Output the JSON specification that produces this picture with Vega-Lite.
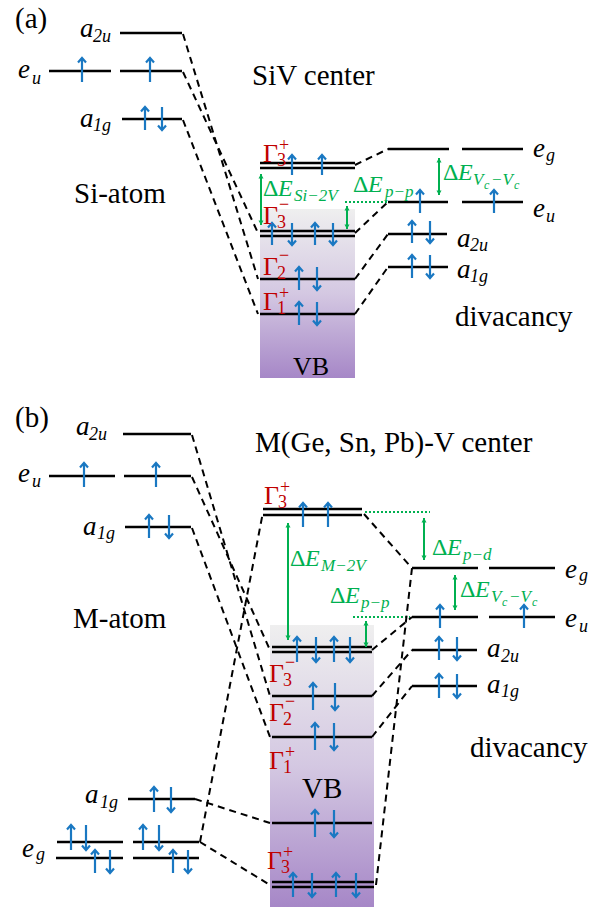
{
"$schema": "https://vega.github.io/schema/vega-lite/v6.json",
"width": 610, "height": 908, "padding": 0, "autosize": {"type": "none"},
"background": "white",
"config": {"view": {"stroke": null}, "text": {"font": "'Liberation Serif', 'Times New Roman', 'DejaVu Serif', serif"}},
"datasets": {
"box": [{"x1":260,"x2":355,"y1":209,"y2":378},{"x1":270,"x2":374,"y1":625,"y2":907}],
"levels": [
{"x1":120,"x2":182,"y":33},{"x1":49,"x2":111,"y":71},{"x1":120,"x2":182,"y":71},{"x1":122,"x2":182,"y":119},
{"x1":260,"x2":355,"y":163},{"x1":260,"x2":355,"y":168},{"x1":260,"x2":355,"y":231},{"x1":260,"x2":355,"y":236},
{"x1":260,"x2":355,"y":279},{"x1":260,"x2":355,"y":314},
{"x1":388,"x2":449,"y":149},{"x1":462,"x2":523,"y":149},{"x1":388,"x2":448,"y":202},{"x1":462,"x2":523,"y":202},
{"x1":388,"x2":447,"y":234},{"x1":388,"x2":448,"y":267},
{"x1":123,"x2":191,"y":434},{"x1":49,"x2":115,"y":476},{"x1":124,"x2":191,"y":476},{"x1":125,"x2":191,"y":527},
{"x1":263,"x2":362,"y":509},{"x1":263,"x2":362,"y":515},{"x1":272,"x2":372,"y":647},{"x1":272,"x2":372,"y":652},
{"x1":272,"x2":372,"y":696},{"x1":272,"x2":372,"y":737},{"x1":272,"x2":372,"y":823},{"x1":272,"x2":374,"y":882},{"x1":272,"x2":374,"y":887},
{"x1":128,"x2":195,"y":799},{"x1":57,"x2":123,"y":842},{"x1":133,"x2":199,"y":842},{"x1":56,"x2":123,"y":858},{"x1":133,"x2":199,"y":858},
{"x1":412,"x2":478,"y":568},{"x1":489,"x2":555,"y":568},{"x1":412,"x2":478,"y":617},{"x1":489,"x2":555,"y":617},
{"x1":412,"x2":477,"y":650},{"x1":412,"x2":477,"y":686}
],
"links": [
{"id":"a1","x":183,"y":34},{"id":"a1","x":258,"y":279},
{"id":"a2","x":183,"y":72},{"id":"a2","x":258,"y":233},
{"id":"a3","x":183,"y":120},{"id":"a3","x":258,"y":314},
{"id":"a4","x":355,"y":165},{"id":"a4","x":388,"y":149},
{"id":"a5","x":355,"y":233},{"id":"a5","x":388,"y":202},
{"id":"a6","x":355,"y":279},{"id":"a6","x":388,"y":234},
{"id":"a7","x":355,"y":314},{"id":"a7","x":388,"y":267},
{"id":"b1","x":192,"y":435},{"id":"b1","x":270,"y":696},
{"id":"b2","x":192,"y":477},{"id":"b2","x":270,"y":650},
{"id":"b3","x":192,"y":528},{"id":"b3","x":270,"y":737},
{"id":"b4","x":200,"y":842},{"id":"b4","x":263,"y":512},
{"id":"b5","x":195,"y":799},{"id":"b5","x":270,"y":823},
{"id":"b6","x":200,"y":842},{"id":"b6","x":270,"y":885},
{"id":"b7","x":364,"y":514},{"id":"b7","x":410,"y":566},
{"id":"b8","x":372,"y":650},{"id":"b8","x":412,"y":617},
{"id":"b9","x":372,"y":696},{"id":"b9","x":412,"y":650},
{"id":"b10","x":372,"y":737},{"id":"b10","x":412,"y":686},
{"id":"b11","x":412,"y":568},{"id":"b11","x":376,"y":885}
],
"dotted": [{"x1":345,"x2":388,"y":202},{"x1":365,"x2":430,"y":512},{"x1":353,"x2":410,"y":617}],
"gaps": [{"x":261,"y1":174,"y2":225},{"x":347,"y1":206,"y2":229},{"x":439,"y1":158,"y2":195},
{"x":288,"y1":523,"y2":640},{"x":366,"y1":621,"y2":647},{"x":424,"y1":518,"y2":560},{"x":455,"y1":575,"y2":610}],
"spins": [
{"x":82,"tail":82,"head":58,"dir":"up"},{"x":150,"tail":82,"head":58,"dir":"up"},
{"x":145,"tail":130,"head":107,"dir":"up"},{"x":162,"tail":107,"head":130,"dir":"down"},
{"x":292,"tail":175,"head":155,"dir":"up"},{"x":322,"tail":175,"head":155,"dir":"up"},
{"x":272,"tail":245,"head":223,"dir":"up"},{"x":292,"tail":223,"head":245,"dir":"down"},{"x":315,"tail":245,"head":223,"dir":"up"},{"x":333,"tail":223,"head":245,"dir":"down"},
{"x":299,"tail":290,"head":267,"dir":"up"},{"x":317,"tail":267,"head":290,"dir":"down"},
{"x":299,"tail":325,"head":302,"dir":"up"},{"x":317,"tail":302,"head":325,"dir":"down"},
{"x":420,"tail":213,"head":190,"dir":"up"},{"x":494,"tail":213,"head":190,"dir":"up"},
{"x":412,"tail":243,"head":221,"dir":"up"},{"x":430,"tail":221,"head":243,"dir":"down"},
{"x":412,"tail":278,"head":255,"dir":"up"},{"x":430,"tail":255,"head":278,"dir":"down"},
{"x":84,"tail":487,"head":463,"dir":"up"},{"x":156,"tail":487,"head":463,"dir":"up"},
{"x":149,"tail":538,"head":515,"dir":"up"},{"x":169,"tail":515,"head":538,"dir":"down"},
{"x":303,"tail":527,"head":503,"dir":"up"},{"x":328,"tail":527,"head":503,"dir":"up"},
{"x":297,"tail":662,"head":637,"dir":"up"},{"x":316,"tail":637,"head":662,"dir":"down"},{"x":334,"tail":662,"head":637,"dir":"up"},{"x":350,"tail":637,"head":662,"dir":"down"},
{"x":313,"tail":710,"head":683,"dir":"up"},{"x":335,"tail":683,"head":710,"dir":"down"},
{"x":315,"tail":750,"head":723,"dir":"up"},{"x":334,"tail":723,"head":750,"dir":"down"},
{"x":315,"tail":837,"head":810,"dir":"up"},{"x":334,"tail":810,"head":837,"dir":"down"},
{"x":293,"tail":897,"head":873,"dir":"up"},{"x":312,"tail":873,"head":897,"dir":"down"},{"x":336,"tail":897,"head":873,"dir":"up"},{"x":356,"tail":873,"head":897,"dir":"down"},
{"x":154,"tail":812,"head":787,"dir":"up"},{"x":171,"tail":787,"head":812,"dir":"down"},
{"x":71,"tail":850,"head":825,"dir":"up"},{"x":86,"tail":825,"head":850,"dir":"down"},{"x":143,"tail":850,"head":825,"dir":"up"},{"x":159,"tail":825,"head":850,"dir":"down"},
{"x":95,"tail":873,"head":850,"dir":"up"},{"x":110,"tail":850,"head":873,"dir":"down"},{"x":173,"tail":873,"head":850,"dir":"up"},{"x":188,"tail":850,"head":873,"dir":"down"},
{"x":440,"tail":628,"head":605,"dir":"up"},{"x":524,"tail":628,"head":605,"dir":"up"},
{"x":439,"tail":660,"head":637,"dir":"up"},{"x":457,"tail":637,"head":660,"dir":"down"},
{"x":439,"tail":698,"head":674,"dir":"up"},{"x":457,"tail":674,"head":698,"dir":"down"}
],
"texts": [
{"kind":"plain","x":15,"y":28,"t":"(a)"},{"kind":"plain","x":252,"y":85,"t":"SiV center"},{"kind":"plain","x":74,"y":203,"t":"Si-atom"},
{"kind":"plain","x":455,"y":326,"t":"divacancy"},{"kind":"plainsm","x":293,"y":375,"t":"VB"},
{"kind":"plain","x":15,"y":427,"t":"(b)"},{"kind":"plain","x":255,"y":452,"t":"M(Ge, Sn, Pb)-V center"},{"kind":"plain","x":73,"y":628,"t":"M-atom"},
{"kind":"plain","x":470,"y":757,"t":"divacancy"},{"kind":"plain","x":302,"y":798,"t":"VB"},
{"kind":"mb","x":80,"y":37,"t":"a"},{"kind":"mb","x":18,"y":78,"t":"e"},{"kind":"mb","x":80,"y":127,"t":"a"},
{"kind":"mb","x":533,"y":157,"t":"e"},{"kind":"mb","x":533,"y":217,"t":"e"},{"kind":"mb","x":457,"y":247,"t":"a"},{"kind":"mb","x":457,"y":278,"t":"a"},
{"kind":"mb","x":76,"y":435,"t":"a"},{"kind":"mb","x":18,"y":482,"t":"e"},{"kind":"mb","x":83,"y":535,"t":"a"},
{"kind":"mb","x":85,"y":803,"t":"a"},{"kind":"mb","x":22,"y":857,"t":"e"},
{"kind":"mb","x":565,"y":578,"t":"e"},{"kind":"mb","x":565,"y":627,"t":"e"},{"kind":"mb","x":487,"y":657,"t":"a"},{"kind":"mb","x":487,"y":693,"t":"a"},
{"kind":"ms","x":93,"y":42,"t":"2u"},{"kind":"ms","x":32,"y":84,"t":"u"},{"kind":"ms","x":93,"y":131,"t":"1g"},
{"kind":"ms","x":546,"y":161,"t":"g"},{"kind":"ms","x":546,"y":222,"t":"u"},{"kind":"ms","x":470,"y":251,"t":"2u"},{"kind":"ms","x":470,"y":282,"t":"1g"},
{"kind":"ms","x":89,"y":440,"t":"2u"},{"kind":"ms","x":32,"y":487,"t":"u"},{"kind":"ms","x":97,"y":539,"t":"1g"},
{"kind":"ms","x":100,"y":808,"t":"1g"},{"kind":"ms","x":36,"y":860,"t":"g"},
{"kind":"ms","x":579,"y":581,"t":"g"},{"kind":"ms","x":579,"y":632,"t":"u"},{"kind":"ms","x":501,"y":662,"t":"2u"},{"kind":"ms","x":501,"y":697,"t":"1g"},
{"kind":"g","x":263,"y":162,"t":"Γ"},{"kind":"g","x":263,"y":224,"t":"Γ"},{"kind":"g","x":263,"y":275,"t":"Γ"},{"kind":"g","x":263,"y":310,"t":"Γ"},
{"kind":"g","x":264,"y":504,"t":"Γ"},{"kind":"g","x":269,"y":682,"t":"Γ"},{"kind":"g","x":269,"y":721,"t":"Γ"},{"kind":"g","x":269,"y":769,"t":"Γ"},{"kind":"g","x":267,"y":869,"t":"Γ"},
{"kind":"gs","x":279,"y":151,"t":"+"},{"kind":"gs","x":277,"y":166,"t":"3"},
{"kind":"gs","x":279,"y":210,"t":"−"},{"kind":"gs","x":277,"y":228,"t":"3"},
{"kind":"gs","x":279,"y":261,"t":"−"},{"kind":"gs","x":277,"y":279,"t":"2"},
{"kind":"gs","x":279,"y":299,"t":"+"},{"kind":"gs","x":277,"y":314,"t":"1"},
{"kind":"gs","x":280,"y":493,"t":"+"},{"kind":"gs","x":278,"y":508,"t":"3"},
{"kind":"gs","x":285,"y":668,"t":"−"},{"kind":"gs","x":283,"y":686,"t":"3"},
{"kind":"gs","x":285,"y":707,"t":"−"},{"kind":"gs","x":283,"y":725,"t":"2"},
{"kind":"gs","x":285,"y":758,"t":"+"},{"kind":"gs","x":283,"y":773,"t":"1"},
{"kind":"gs","x":283,"y":858,"t":"+"},{"kind":"gs","x":281,"y":873,"t":"3"},
{"kind":"d","x":263,"y":196,"t":"Δ"},{"kind":"d","x":353,"y":192,"t":"Δ"},{"kind":"d","x":443,"y":180,"t":"Δ"},
{"kind":"d","x":290,"y":566,"t":"Δ"},{"kind":"d","x":330,"y":603,"t":"Δ"},{"kind":"d","x":432,"y":555,"t":"Δ"},{"kind":"d","x":460,"y":597,"t":"Δ"},
{"kind":"dE","x":278,"y":196,"t":"E"},{"kind":"dE","x":368,"y":192,"t":"E"},{"kind":"dE","x":458,"y":180,"t":"E"},
{"kind":"dE","x":305,"y":566,"t":"E"},{"kind":"dE","x":345,"y":603,"t":"E"},{"kind":"dE","x":447,"y":555,"t":"E"},{"kind":"dE","x":475,"y":597,"t":"E"},
{"kind":"ds","x":294,"y":201,"t":"Si−2V"},{"kind":"ds","x":385,"y":197,"t":"p−p"},{"kind":"ds","x":473,"y":185,"t":"V"},{"kind":"ds","x":491,"y":185,"t":"−V"},
{"kind":"ds","x":321,"y":571,"t":"M−2V"},{"kind":"ds","x":361,"y":608,"t":"p−p"},{"kind":"ds","x":463,"y":560,"t":"p−d"},{"kind":"ds","x":491,"y":602,"t":"V"},{"kind":"ds","x":509,"y":602,"t":"−V"},
{"kind":"dss","x":484,"y":189,"t":"c"},{"kind":"dss","x":514,"y":189,"t":"c"},{"kind":"dss","x":502,"y":606,"t":"c"},{"kind":"dss","x":532,"y":606,"t":"c"}
]
},
"layer": [
{"data":{"name":"box"},
 "mark":{"type":"rect","fill":{"gradient":"linear","x1":0,"y1":0,"x2":0,"y2":1,"stops":[{"offset":0,"color":"#efefef"},{"offset":0.5,"color":"#d4c8e2"},{"offset":1,"color":"#a687c7"}]}},
 "encoding":{"x":{"field":"x1","type":"quantitative","scale":{"domain":[0,610],"nice":false,"zero":false},"axis":null},"x2":{"field":"x2"},
 "y":{"field":"y1","type":"quantitative","scale":{"domain":[0,908],"nice":false,"zero":false,"reverse":true},"axis":null},"y2":{"field":"y2"}}},
{"data":{"name":"dotted"},
 "mark":{"type":"rule","color":"#00b050","strokeWidth":2,"strokeDash":[2,2]},
 "encoding":{"x":{"field":"x1","type":"quantitative","axis":null},"x2":{"field":"x2"},"y":{"field":"y","type":"quantitative","axis":null}}},
{"data":{"name":"links"},
 "mark":{"type":"line","color":"black","strokeWidth":2,"strokeDash":[7,5]},
 "encoding":{"x":{"field":"x","type":"quantitative","axis":null},"y":{"field":"y","type":"quantitative","axis":null},"detail":{"field":"id"}}},
{"data":{"name":"levels"},
 "mark":{"type":"rule","color":"black","strokeWidth":2.5},
 "encoding":{"x":{"field":"x1","type":"quantitative","axis":null},"x2":{"field":"x2"},"y":{"field":"y","type":"quantitative","axis":null}}},
{"data":{"name":"gaps"},
 "mark":{"type":"rule","color":"#00b050","strokeWidth":2},
 "encoding":{"x":{"field":"x","type":"quantitative","axis":null},"y":{"field":"y1","type":"quantitative","axis":null},"y2":{"field":"y2"}}},
{"data":{"name":"gaps"},
 "mark":{"type":"point","filled":true,"color":"#00b050","shape":"M0,0L-1,1.8L1,1.8Z","size":25,"opacity":1},
 "encoding":{"x":{"field":"x","type":"quantitative","axis":null},"y":{"field":"y1","type":"quantitative","axis":null}}},
{"data":{"name":"gaps"},
 "mark":{"type":"point","filled":true,"color":"#00b050","shape":"M0,0L-1,-1.8L1,-1.8Z","size":25,"opacity":1},
 "encoding":{"x":{"field":"x","type":"quantitative","axis":null},"y":{"field":"y2","type":"quantitative","axis":null}}},
{"data":{"name":"spins"},
 "mark":{"type":"rule","color":"#1a78c2","strokeWidth":2.2},
 "encoding":{"x":{"field":"x","type":"quantitative","axis":null},"y":{"field":"tail","type":"quantitative","axis":null},"y2":{"field":"head"}}},
{"data":{"name":"spins"},"transform":[{"filter":"datum.dir == 'up'"}],
 "mark":{"type":"point","filled":false,"color":"#1a78c2","shape":"M-1,1.1L0,0L1,1.1","size":64,"strokeWidth":2.2,"opacity":1},
 "encoding":{"x":{"field":"x","type":"quantitative","axis":null},"y":{"field":"head","type":"quantitative","axis":null}}},
{"data":{"name":"spins"},"transform":[{"filter":"datum.dir == 'down'"}],
 "mark":{"type":"point","filled":false,"color":"#1a78c2","shape":"M-1,-1.1L0,0L1,-1.1","size":64,"strokeWidth":2.2,"opacity":1},
 "encoding":{"x":{"field":"x","type":"quantitative","axis":null},"y":{"field":"head","type":"quantitative","axis":null}}},
{"data":{"name":"texts"},"transform":[{"filter":"datum.kind == 'plain'"}],
 "mark":{"type":"text","fontSize":29,"align":"left","baseline":"alphabetic","color":"black"},
 "encoding":{"x":{"field":"x","type":"quantitative","axis":null},"y":{"field":"y","type":"quantitative","axis":null},"text":{"field":"t"}}},
{"data":{"name":"texts"},"transform":[{"filter":"datum.kind == 'plainsm'"}],
 "mark":{"type":"text","fontSize":26,"align":"left","baseline":"alphabetic","color":"black"},
 "encoding":{"x":{"field":"x","type":"quantitative","axis":null},"y":{"field":"y","type":"quantitative","axis":null},"text":{"field":"t"}}},
{"data":{"name":"texts"},"transform":[{"filter":"datum.kind == 'mb'"}],
 "mark":{"type":"text","fontStyle":"italic","fontSize":27,"align":"left","baseline":"alphabetic","color":"black"},
 "encoding":{"x":{"field":"x","type":"quantitative","axis":null},"y":{"field":"y","type":"quantitative","axis":null},"text":{"field":"t"}}},
{"data":{"name":"texts"},"transform":[{"filter":"datum.kind == 'ms'"}],
 "mark":{"type":"text","fontStyle":"italic","fontSize":18,"align":"left","baseline":"alphabetic","color":"black"},
 "encoding":{"x":{"field":"x","type":"quantitative","axis":null},"y":{"field":"y","type":"quantitative","axis":null},"text":{"field":"t"}}},
{"data":{"name":"texts"},"transform":[{"filter":"datum.kind == 'g'"}],
 "mark":{"type":"text","fontSize":26,"align":"left","baseline":"alphabetic","color":"#c00000"},
 "encoding":{"x":{"field":"x","type":"quantitative","axis":null},"y":{"field":"y","type":"quantitative","axis":null},"text":{"field":"t"}}},
{"data":{"name":"texts"},"transform":[{"filter":"datum.kind == 'gs'"}],
 "mark":{"type":"text","fontSize":18,"align":"left","baseline":"alphabetic","color":"#c00000"},
 "encoding":{"x":{"field":"x","type":"quantitative","axis":null},"y":{"field":"y","type":"quantitative","axis":null},"text":{"field":"t"}}},
{"data":{"name":"texts"},"transform":[{"filter":"datum.kind == 'd'"}],
 "mark":{"type":"text","fontSize":24,"align":"left","baseline":"alphabetic","color":"#00b050"},
 "encoding":{"x":{"field":"x","type":"quantitative","axis":null},"y":{"field":"y","type":"quantitative","axis":null},"text":{"field":"t"}}},
{"data":{"name":"texts"},"transform":[{"filter":"datum.kind == 'dE'"}],
 "mark":{"type":"text","fontStyle":"italic","fontSize":24,"align":"left","baseline":"alphabetic","color":"#00b050"},
 "encoding":{"x":{"field":"x","type":"quantitative","axis":null},"y":{"field":"y","type":"quantitative","axis":null},"text":{"field":"t"}}},
{"data":{"name":"texts"},"transform":[{"filter":"datum.kind == 'ds'"}],
 "mark":{"type":"text","fontStyle":"italic","fontSize":17,"align":"left","baseline":"alphabetic","color":"#00b050"},
 "encoding":{"x":{"field":"x","type":"quantitative","axis":null},"y":{"field":"y","type":"quantitative","axis":null},"text":{"field":"t"}}},
{"data":{"name":"texts"},"transform":[{"filter":"datum.kind == 'dss'"}],
 "mark":{"type":"text","fontStyle":"italic","fontSize":12,"align":"left","baseline":"alphabetic","color":"#00b050"},
 "encoding":{"x":{"field":"x","type":"quantitative","axis":null},"y":{"field":"y","type":"quantitative","axis":null},"text":{"field":"t"}}}
]
}
